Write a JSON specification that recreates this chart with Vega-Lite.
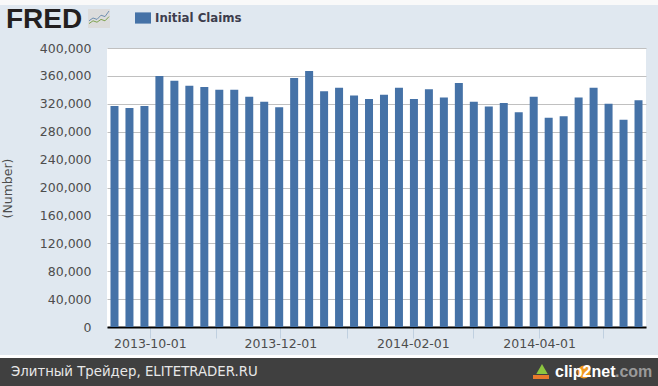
{
"$schema":"https://vega.github.io/schema/vega-lite/v6.json",
"background":"#e0e8f0",
"autosize":{"type":"none"},
"padding":{"left":107,"top":48,"right":12,"bottom":59},
"width":539,"height":279,
"view":{"fill":"#ffffff","stroke":null},
"title":{"text":"FRED","anchor":"start","frame":"group","font":"Liberation Sans","fontWeight":"bold","fontSize":28,"color":"#231f20","offset":-34,"dx":-101},
"resolve":{"scale":{"x":"independent","y":"independent","color":"independent"}},
"layer":[
{"data":{"values":[{"band":"top"}]},"mark":{"type":"rect","fill":"#f9f9f9","clip":false},
"encoding":{"x":{"field":"band","type":"nominal","axis":null,"scale":{"type":"band","range":[-107,551]}},"y":{"field":"band","type":"nominal","axis":null,"scale":{"type":"band","range":[-48,-43]}}}},
{"data":{"values":[{"band":"gap"}]},"mark":{"type":"rect","fill":"#ffffff","clip":false},
"encoding":{"x":{"field":"band","type":"nominal","axis":null,"scale":{"type":"band","range":[-107,551]}},"y":{"field":"band","type":"nominal","axis":null,"scale":{"type":"band","range":[307,310]}}}},
{"data":{"values":[{"band":"footer"}]},"mark":{"type":"rect","fill":"#404040","clip":false},
"encoding":{"x":{"field":"band","type":"nominal","axis":null,"scale":{"type":"band","range":[-107,551]}},"y":{"field":"band","type":"nominal","axis":null,"scale":{"type":"band","range":[310,338]}}}},
{"data":{"values":[{"band":"logo"}]},"mark":{"type":"rect","fill":"#dcdcdc","clip":false},
"encoding":{"x":{"field":"band","type":"nominal","axis":null,"scale":{"type":"band","range":[-19,3]}},"y":{"field":"band","type":"nominal","axis":null,"scale":{"type":"band","range":[-39,-20]}}}},
{"data":{"values":[{"step":0,"value":3,"line":"a"},{"step":1,"value":5,"line":"a"},{"step":2,"value":4,"line":"a"},{"step":3,"value":7,"line":"a"},{"step":4,"value":6,"line":"a"},{"step":5,"value":10,"line":"a"},{"step":0,"value":1,"line":"b"},{"step":1,"value":3,"line":"b"},{"step":2,"value":2,"line":"b"},{"step":3,"value":4,"line":"b"},{"step":4,"value":3,"line":"b"},{"step":5,"value":6,"line":"b"}]},
"mark":{"type":"line","strokeWidth":1,"clip":false},
"encoding":{"x":{"field":"step","type":"quantitative","axis":null,"scale":{"domain":[0,5],"range":[-18,2]}},"y":{"field":"value","type":"quantitative","axis":null,"scale":{"domain":[0,10],"range":[-23,-37]}},"color":{"field":"line","type":"nominal","legend":null,"scale":{"domain":["a","b"],"range":["#6f8fb0","#7fa34f"]}}}},
{"data":{"values":[
{"week":"2013-09-14","series":"Initial Claims","claims":317000},{"week":"2013-09-21","series":"Initial Claims","claims":314000},{"week":"2013-09-28","series":"Initial Claims","claims":317000},{"week":"2013-10-05","series":"Initial Claims","claims":360000},{"week":"2013-10-12","series":"Initial Claims","claims":353000},{"week":"2013-10-19","series":"Initial Claims","claims":346000},{"week":"2013-10-26","series":"Initial Claims","claims":344000},{"week":"2013-11-02","series":"Initial Claims","claims":340000},{"week":"2013-11-09","series":"Initial Claims","claims":340000},{"week":"2013-11-16","series":"Initial Claims","claims":330000},{"week":"2013-11-23","series":"Initial Claims","claims":323000},{"week":"2013-11-30","series":"Initial Claims","claims":315000},{"week":"2013-12-07","series":"Initial Claims","claims":357000},{"week":"2013-12-14","series":"Initial Claims","claims":367000},{"week":"2013-12-21","series":"Initial Claims","claims":338000},{"week":"2013-12-28","series":"Initial Claims","claims":343000},{"week":"2014-01-04","series":"Initial Claims","claims":332000},{"week":"2014-01-11","series":"Initial Claims","claims":327000},{"week":"2014-01-18","series":"Initial Claims","claims":333000},{"week":"2014-01-25","series":"Initial Claims","claims":343000},{"week":"2014-02-01","series":"Initial Claims","claims":327000},{"week":"2014-02-08","series":"Initial Claims","claims":341000},{"week":"2014-02-15","series":"Initial Claims","claims":329000},{"week":"2014-02-22","series":"Initial Claims","claims":350000},{"week":"2014-03-01","series":"Initial Claims","claims":323000},{"week":"2014-03-08","series":"Initial Claims","claims":316000},{"week":"2014-03-15","series":"Initial Claims","claims":321000},{"week":"2014-03-22","series":"Initial Claims","claims":308000},{"week":"2014-03-29","series":"Initial Claims","claims":330000},{"week":"2014-04-05","series":"Initial Claims","claims":300000},{"week":"2014-04-12","series":"Initial Claims","claims":302000},{"week":"2014-04-19","series":"Initial Claims","claims":329000},{"week":"2014-04-26","series":"Initial Claims","claims":343000},{"week":"2014-05-03","series":"Initial Claims","claims":320000},{"week":"2014-05-10","series":"Initial Claims","claims":297000},{"week":"2014-05-17","series":"Initial Claims","claims":325000}
]},
"mark":{"type":"bar","size":8},
"encoding":{
"x":{"field":"week","type":"temporal","title":null,
"scale":{"type":"utc","padding":0,"domain":["2013-09-10T12:00:00Z","2014-05-20T12:00:00Z"]},
"axis":{"values":["2013-10-01","2013-11-01","2013-12-01","2014-01-01","2014-02-01","2014-03-01","2014-04-01","2014-05-01"],
"labelExpr":"utcmonth(datum.value)%2==1 ? utcFormat(datum.value,'%Y-%m-%d') : ''",
"grid":false,"domainColor":"#000000","domainWidth":2,"tickColor":"#c0d0e0","tickSize":11,"tickOffset":-1,"labelPadding":-1,"labelFont":"DejaVu Sans","labelFontSize":12.5,"labelColor":"#4d4d4d","labelAngle":0,"labelOverlap":false,"labelFlush":false}},
"y":{"field":"claims","type":"quantitative","title":"(Number)",
"scale":{"domain":[0,400000]},
"axis":{"values":[0,40000,80000,120000,160000,200000,240000,280000,320000,360000,400000],"format":",.0f","grid":true,"gridColor":"#c0c0c0","gridWidth":1,"domain":false,"ticks":false,"labelPadding":16,"labelFont":"DejaVu Sans","labelFontSize":12.5,"labelColor":"#4d4d4d","titleFont":"DejaVu Sans","titleFontSize":12.5,"titleFontWeight":"normal","titleColor":"#4d4d4d","titleX":-93,"titleY":140}},
"color":{"field":"series","type":"nominal","title":null,
"scale":{"range":["#4572a7"]},
"legend":{"orient":"none","legendX":27,"legendY":-39,"padding":0,"symbolType":"M-1,-0.7H1V0.7H-1Z","symbolSize":256,"symbolOpacity":1,"labelFont":"DejaVu Sans","labelFontWeight":"bold","labelFontSize":11.8,"labelColor":"#3d3d4d","labelOffset":3}}
}},
{"data":{"values":[{"label":"Элитный Трейдер, ELITETRADER.RU"}]},"mark":{"type":"text","align":"left","font":"DejaVu Sans","fontSize":13.3,"color":"#e8e8e8","clip":false},
"encoding":{"x":{"field":"label","type":"nominal","axis":null,"scale":{"type":"point","range":[-96,-96]}},"y":{"field":"label","type":"nominal","axis":null,"scale":{"type":"band","range":[310,338]}},"text":{"field":"label"}}},
{"data":{"values":[{"part":"arrow"}]},"mark":{"type":"point","shape":"triangle-up","filled":true,"opacity":1,"size":130,"color":"#8cc63f","clip":false},
"encoding":{"x":{"field":"part","type":"nominal","axis":null,"scale":{"type":"point","range":[435,435]}},"y":{"field":"part","type":"nominal","axis":null,"scale":{"type":"point","range":[321,321]}}}},
{"data":{"values":[{"part":"badge"}]},"mark":{"type":"rect","fill":"#e8792b","clip":false},
"encoding":{"x":{"field":"part","type":"nominal","axis":null,"scale":{"type":"band","range":[426,442]}},"y":{"field":"part","type":"nominal","axis":null,"scale":{"type":"band","range":[327,331]}}}},
{"data":{"values":[{"part":"circle"}]},"mark":{"type":"point","shape":"circle","filled":true,"opacity":1,"size":170,"color":"#f39a1f","clip":false},
"encoding":{"x":{"field":"part","type":"nominal","axis":null,"scale":{"type":"point","range":[477,477]}},"y":{"field":"part","type":"nominal","axis":null,"scale":{"type":"point","range":[324,324]}}}},
{"data":{"values":[{"label":"clip2net"}]},"mark":{"type":"text","align":"left","font":"Liberation Sans","fontWeight":"bold","fontSize":16,"color":"#ffffff","clip":false},
"encoding":{"x":{"field":"label","type":"nominal","axis":null,"scale":{"type":"point","range":[448,448]}},"y":{"field":"label","type":"nominal","axis":null,"scale":{"type":"band","range":[310,338]}},"text":{"field":"label"}}},
{"data":{"values":[{"label":".com"}]},"mark":{"type":"text","align":"left","font":"Liberation Sans","fontWeight":"bold","fontSize":16,"color":"#9a9a9a","clip":false},
"encoding":{"x":{"field":"label","type":"nominal","axis":null,"scale":{"type":"point","range":[508,508]}},"y":{"field":"label","type":"nominal","axis":null,"scale":{"type":"band","range":[310,338]}},"text":{"field":"label"}}}
]
}
